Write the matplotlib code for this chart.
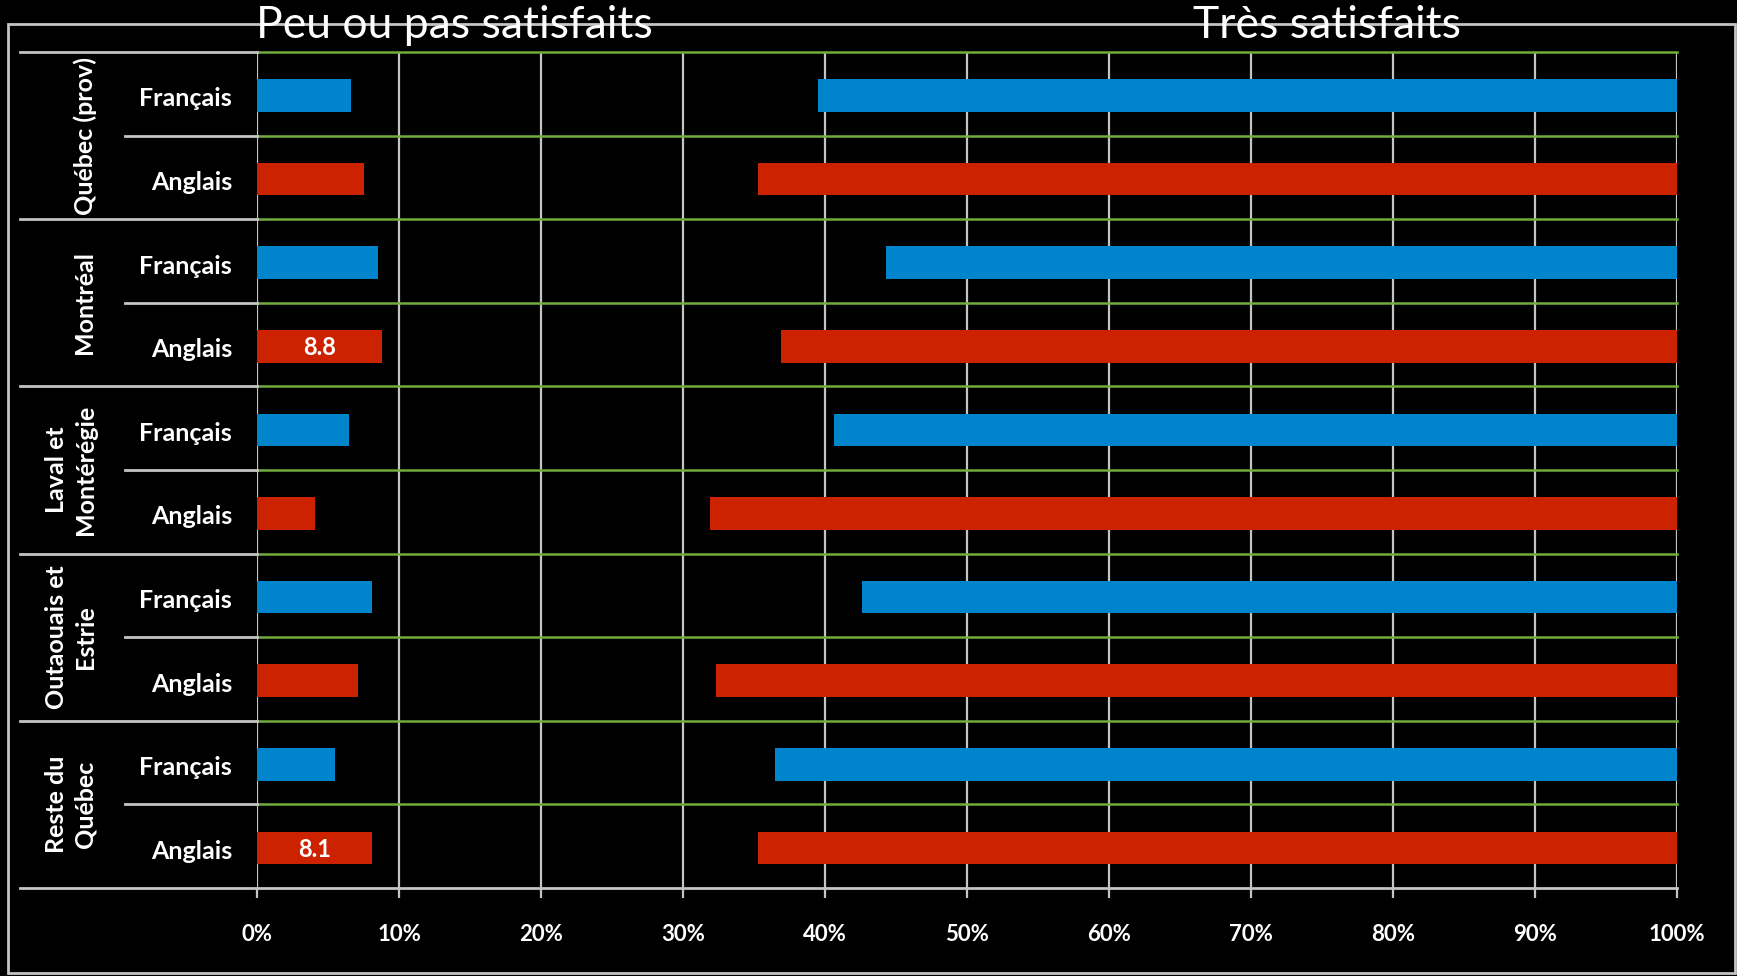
import matplotlib
matplotlib.use("Agg")
import matplotlib.pyplot as plt
from matplotlib.patches import Rectangle
from matplotlib.transforms import blended_transform_factory

plt.rcParams['font.family'] = ['Lato', 'DejaVu Sans']

groups = ["Québec (prov)", "Montréal", "Laval et\nMontérégie", "Outaouais et\nEstrie", "Reste du\nQuébec"]
langues = ["Français", "Anglais"]
peu_satisfaits = [6.6, 7.5, 8.5, 8.8, 6.5, 4.1, 8.1, 7.1, 5.5, 8.1]
tres_satisfaits = [60.5, 64.7, 55.7, 63.1, 59.4, 68.1, 57.4, 67.7, 63.5, 64.7]
shown_labels = {3: "8.8", 9: "8.1"}
ticks = list(range(0, 101, 10))
tick_labels = [f"{t}%" for t in ticks]

BLUE = "#0084CC"
RED = "#CC2200"
GREEN = "#72AD3C"
GRAY = "#C4C4C4"

W, H = 1737, 976
fig = plt.figure(figsize=(W / 100, H / 100), dpi=100, facecolor="black")

# axes placed by pixel
x0, x1, y0, y1 = 257, 1677, 52, 888
ax = fig.add_axes([x0 / W, 1 - y1 / H, (x1 - x0) / W, (y1 - y0) / H])
ax.set_facecolor("black")
ax.set_xlim(0, 100)
ax.set_ylim(10, 0)

n = len(peu_satisfaits)
colors = [BLUE if i % 2 == 0 else RED for i in range(n)]
ypos = [i + 0.52 for i in range(n)]
ax.barh(ypos, peu_satisfaits, height=0.39, color=colors, zorder=3)
ax.barh(ypos, tres_satisfaits, left=[100 - v for v in tres_satisfaits],
        height=0.39, color=colors, zorder=3)

for i, txt in shown_labels.items():
    ax.text(peu_satisfaits[i] / 2, ypos[i] + 0.02, txt, color="white", fontsize=17,
            fontweight="bold", ha="center", va="center", zorder=4)

# vertical grid
for t in ticks:
    ax.axvline(t, color=GRAY, lw=1.6, zorder=1)

# horizontal separators
trans = blended_transform_factory(ax.transAxes, ax.transData)
px = lambda p: (p - x0) / (x1 - x0)
for k in range(n + 1):
    if k == n:
        ax.plot([px(20), 1], [k, k], color=GRAY, lw=2, transform=trans, clip_on=False, zorder=2)
        continue
    ax.plot([0, 1], [k, k], color=GREEN, lw=1.8, transform=trans, clip_on=False, zorder=2)
    start = px(20) if k % 2 == 0 else px(125)
    ax.plot([start, 0], [k, k], color=GRAY, lw=2, transform=trans, clip_on=False, zorder=2)

# row and group labels
for i in range(n):
    ax.text(px(232), ypos[i] + 0.04, langues[i % 2], transform=trans, color="white",
            fontsize=18, fontweight="bold", ha="right", va="center")
for g, name in enumerate(groups):
    gx = px(71) if "\n" in name else px(85)
    ax.text(gx, 2 * g + 1, name, transform=trans, color="white", fontsize=18,
            fontweight="bold", rotation=90, ha="center", va="center",
            multialignment="center", linespacing=1.3)

ax.set_xticks(ticks)
ax.set_xticklabels(tick_labels, fontsize=16, fontweight="bold", color="white")
ax.set_yticks([])
ax.tick_params(axis="x", colors=GRAY, length=7, width=1.6, pad=19, labelcolor="white")
for s in ax.spines.values():
    s.set_visible(False)

# outer frame
fig.patches.append(Rectangle((8 / W, 1 - 973 / H), (1735 - 8) / W, (973 - 24) / H,
                             transform=fig.transFigure, fill=False, edgecolor=GRAY, lw=2))

fig.text(454 / W, 1 - 26 / H, "Peu ou pas satisfaits", color="white", fontsize=32,
         ha="center", va="center")
fig.text(1327 / W, 1 - 26 / H, "Très satisfaits", color="white", fontsize=32,
         ha="center", va="center")

fig.savefig("out.png", dpi=100, facecolor="black")
